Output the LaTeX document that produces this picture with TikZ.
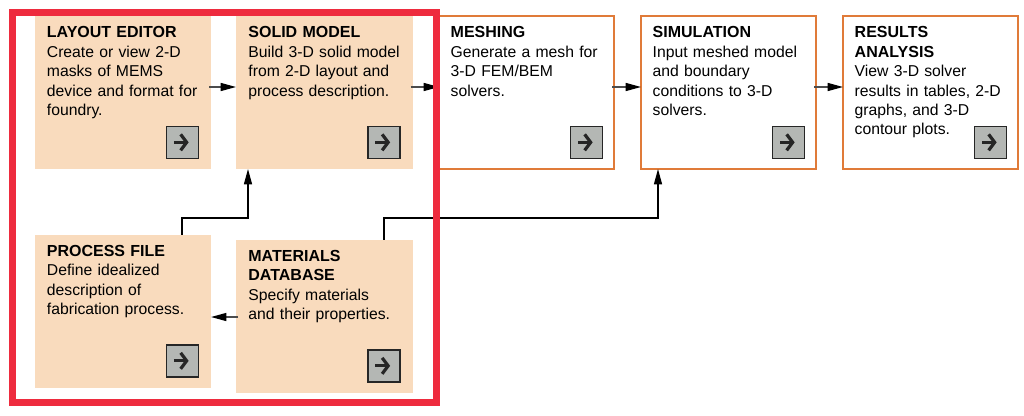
\documentclass[tikz,border=0pt]{standalone}
\usepackage{fontspec}
\setmainfont{Liberation Sans}
\usetikzlibrary{arrows.meta,positioning}
\definecolor{cardtan}{HTML}{F9DBBD}
\definecolor{cardedge}{HTML}{E07B39}
\definecolor{framered}{HTML}{EE2B3E}
\definecolor{btngray}{HTML}{B4B7B4}
\newcommand{\cardtext}[2]{\parbox[t][102.75pt][t]{\linewidth}{\raggedright\strut{\fontsize{12}{14.6}\selectfont\bfseries #1}\\#2}}
\tikzset{
  card/.style={anchor=north west,inner xsep=9.3pt,inner ysep=6pt,outer sep=0pt,
    font=\fontsize{11.8}{14.6}\selectfont},
  tancard/.style={card,fill=cardtan,text width=113.8pt},
  edgecard/.style={card,fill=white,draw=cardedge,line width=1pt,inner xsep=8.8pt,text width=113.65pt},
  btn/.style={draw=black!85,fill=btngray,line width=1pt,minimum size=24pt,inner sep=0pt,outer sep=0pt,
    path picture={\draw[line width=2.4pt,-{Straight Barb[length=4.5pt,width=12pt]}]
      ([xshift=-6.5pt]path picture bounding box.center) -- ([xshift=4.5pt]path picture bounding box.center);}},
  flow/.style={line width=1pt,-{Triangle[length=11.5pt,width=6pt,black]}},
  hflow/.style={flow,black!70,shorten <=-1.5pt}
}
\begin{document}
\begin{tikzpicture}[x=0.75pt,y=0.75pt]
\useasboundingbox (0,0) rectangle (1024,-415);
\node[tancard] (layout) at (34.5,-16) {\cardtext{LAYOUT EDITOR}{Create or view 2-D\\masks of MEMS\\device and format for\\foundry.}};
\node[tancard] (solid) at (236,-16) {\cardtext{SOLID MODEL}{Build 3-D solid model\\from 2-D layout and\\process description.}};
\node[tancard] (process) at (34.5,-234.5) {\cardtext{PROCESS FILE}{Define idealized\\description of\\fabrication process.}};
\node[tancard] (materials) at (236,-239.5) {\cardtext{MATERIALS\\DATABASE}{Specify materials\\and their properties.}};
\node[edgecard] (meshing) at (439,-16) {\cardtext{MESHING}{Generate a mesh for\\3-D FEM/BEM\\solvers.}};
\node[edgecard] (simulation) at (641,-16) {\cardtext{SIMULATION}{Input meshed model\\and boundary\\conditions to 3-D\\solvers.}};
\node[edgecard] (results) at (843,-16) {\cardtext{RESULTS\\ANALYSIS}{View 3-D solver\\results in tables, 2-D\\graphs, and 3-D\\contour plots.}};
\node[btn,above left=8pt and 9.3pt of layout.south east] (layoutbtn) {};
\node[btn,above left=8pt and 9.3pt of solid.south east] (solidbtn) {};
\node[btn,above left=8pt and 9.3pt of process.south east] (processbtn) {};
\node[btn,above left=8pt and 9.3pt of materials.south east] (materialsbtn) {};
\node[btn,above left=8pt and 8.5pt of meshing.south east] (meshingbtn) {};
\node[btn,above left=8pt and 8.5pt of simulation.south east] (simulationbtn) {};
\node[btn,above left=8pt and 8.5pt of results.south east] (resultsbtn) {};
\coordinate (toprow) at (0,-87);
\coordinate (lowrow) at (0,-317);
\coordinate (processup) at (182,-218);
\coordinate (solidin) at (248,-218);
\coordinate (materialsup) at (384,-218);
\coordinate (simin) at (658,-218);
\draw[hflow] (layout.east |- toprow) -- (solid.west |- toprow);
\draw[hflow] (solid.east |- toprow) -- (meshing.west |- toprow);
\draw[hflow] (meshing.east |- toprow) -- (simulation.west |- toprow);
\draw[hflow] (simulation.east |- toprow) -- (results.west |- toprow);
\draw[hflow] (materials.west |- lowrow) -- (process.east |- lowrow);
\draw[flow] (process.north -| processup) -- (processup) -- (solidin) -- (solid.south -| solidin);
\draw[flow] (materials.north -| materialsup) -- (materialsup) -- (simin) -- (simulation.south -| simin);
\draw[framered,line width=5.25pt] (12.5,-12.5) rectangle (436.5,-402.5);
\end{tikzpicture}
\end{document}
